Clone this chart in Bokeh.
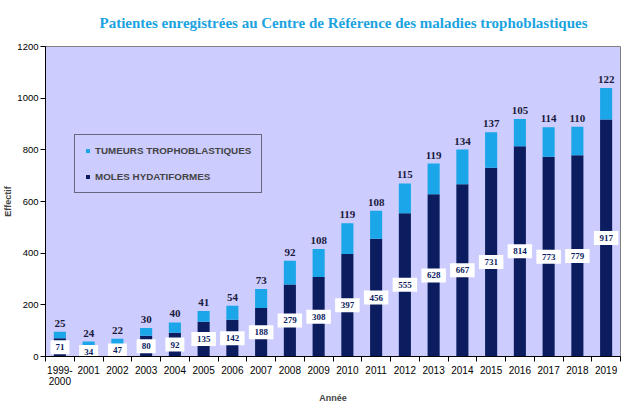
from bokeh.plotting import figure
from bokeh.models import (ColumnDataSource, LabelSet, FixedTicker, Range1d, Legend, LegendItem)
from bokeh.embed import file_html
from bokeh.resources import INLINE

years = ["1999-\n2000", "2001", "2002", "2003", "2004", "2005", "2006", "2007", "2008", "2009",
         "2010", "2011", "2012", "2013", "2014", "2015", "2016", "2017", "2018", "2019"]
moles = [71, 34, 47, 80, 92, 135, 142, 188, 279, 308, 397, 456, 555, 628, 667, 731, 814, 773, 779, 917]
tumeurs = [25, 24, 22, 30, 40, 41, 54, 73, 92, 108, 119, 108, 115, 119, 134, 137, 105, 114, 110, 122]
yticks = [0, 200, 400, 600, 800, 1000, 1200]
title_text = "Patientes enregistrées au Centre de Référence des maladies trophoblastiques"

LIGHT = "#1AA6E8"
DARK = "#0B1D5E"

xs = list(range(1, len(years) + 1))
src = ColumnDataSource(dict(
    x=xs,
    moles=moles,
    tumeurs=tumeurs,
    total=[m + t for m, t in zip(moles, tumeurs)],
    mid=[m / 2 for m in moles],
    mlab=[str(m) for m in moles],
    tlab=[str(t) for t in tumeurs],
    boxw=[len(str(m)) * 5.5 + 8 for m in moles],
))

p = figure(width=628, height=405, output_backend="svg", toolbar_location=None,
           x_range=Range1d(0.5, len(years) + 0.5), y_range=Range1d(0, 1200),
           min_border_left=35, min_border_right=8, min_border_top=0, min_border_bottom=0,
           title=title_text)

p.title.align = "left"
p.title.vertical_align = "top"
p.title.text_font = "Liberation Serif"
p.title.text_font_size = "15px"
p.title.text_line_height = 1.5
p.title.text_color = "#1BA3E0"
p.title.text_font_style = "bold"
p.title.offset = 54
p.title.standoff = 28

p.background_fill_color = "#CCCCFF"
p.border_fill_color = "white"
p.outline_line_color = "#808080"
p.xgrid.visible = False
p.ygrid.visible = False

r = p.vbar_stack(["moles", "tumeurs"], x="x", width=0.42, source=src,
                 color=[DARK, LIGHT], line_color=None)

p.rect(x="x", y="mid", width="boxw", height=14, width_units="screen", height_units="screen",
       source=src, fill_color="white", line_color=None)
p.add_layout(LabelSet(x="x", y="mid", text="mlab", source=src, text_align="center",
                      text_baseline="middle", text_font="Liberation Sans",
                      text_font_size="9px", text_font_style="bold", text_color=DARK))
p.add_layout(LabelSet(x="x", y="total", text="tlab", source=src, text_align="center",
                      text_baseline="bottom", y_offset=5, text_font="Liberation Sans",
                      text_font_size="11px", text_font_style="bold", text_color="#1A1A3A"))

# axes
p.xaxis.ticker = FixedTicker(ticks=xs, minor_ticks=[v - 0.5 for v in xs] + [len(xs) + 0.5])
p.xaxis.major_label_overrides = {x: y for x, y in zip(xs, years)}
p.xaxis.major_tick_line_color = None
p.xaxis.major_tick_out = 0
p.xaxis.major_tick_in = 0
p.xaxis.minor_tick_out = 5
p.xaxis.minor_tick_in = 0
p.xaxis.minor_tick_line_color = "black"
p.xaxis.axis_line_color = "black"
p.xaxis.major_label_standoff = 3
p.xaxis.major_label_text_font = "Liberation Sans"
p.xaxis.major_label_text_font_size = "10px"
p.xaxis.major_label_text_line_height = 1.0
p.xaxis.major_label_text_color = "black"
p.xaxis.axis_label = "Année"
p.xaxis.axis_label_text_font = "Liberation Sans"
p.xaxis.axis_label_text_font_size = "9px"
p.xaxis.axis_label_text_font_style = "bold"
p.xaxis.axis_label_standoff = 3

p.yaxis.ticker = FixedTicker(ticks=yticks)
p.yaxis.minor_tick_line_color = None
p.yaxis.major_tick_out = 5
p.yaxis.major_tick_in = 0
p.yaxis.axis_line_color = "black"
p.yaxis.major_label_text_font = "Liberation Sans"
p.yaxis.major_label_text_font_size = "9.5px"
p.yaxis.major_label_text_color = "black"
p.yaxis.major_label_standoff = 2
p.yaxis.axis_label = "Effectif"
p.yaxis.axis_label_text_font = "Liberation Sans"
p.yaxis.axis_label_text_font_size = "9px"
p.yaxis.axis_label_text_font_style = "bold"
p.yaxis.axis_label_standoff = 1

legend = Legend(items=[LegendItem(label="TUMEURS TROPHOBLASTIQUES", renderers=[r[1]]),
                       LegendItem(label="MOLES HYDATIFORMES", renderers=[r[0]])],
                location=(29, 163), orientation="vertical")
legend.glyph_width = 5
legend.glyph_height = 5
legend.label_text_font = "Liberation Sans"
legend.label_text_font_size = "9.8px"
legend.label_text_font_style = "bold"
legend.label_standoff = 5
legend.spacing = 15
legend.padding = 10
legend.margin = 0
legend.label_height = 10
legend.background_fill_alpha = 0
legend.border_line_color = "black"
legend.border_line_width = 1
legend.label_width = 156
p.add_layout(legend)

open("out.html", "w").write(file_html(p, INLINE))
